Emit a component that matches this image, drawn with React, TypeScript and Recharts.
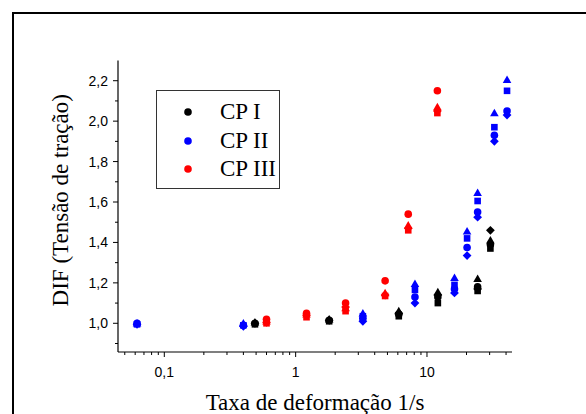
import { ScatterChart, Scatter, XAxis, YAxis, Legend } from "recharts";

// strain rates (1/s) for each specimen group
const cp1Rates = [0.49, 1.8, 6.1, 12.1, 24.3, 30.4];
const cp2Rates = [0.062, 0.4, 3.25, 8.1, 16.2, 20.2, 24.3, 32.6, 40.7];
const cp3Rates = [0.6, 1.21, 2.4, 4.8, 7.2, 12.0];

// DIF values, one list per marker shape
const cp1Circle = [1.0, 1.015, 1.045, 1.13, 1.18, 1.39];
const cp1Triangle = [1.005, 1.02, 1.06, 1.155, 1.22, 1.41];
const cp1Square = [0.995, 1.01, 1.035, 1.1, 1.16, 1.37];
const cp1Diamond = [1.0, 1.015, 1.05, 1.14, 1.17, 1.46];

const cp2Circle = [1.0, 0.99, 1.025, 1.13, 1.17, 1.375, 1.55, 1.93, 2.05];
const cp2Triangle = [1.0, 1.0, 1.05, 1.195, 1.225, 1.455, 1.645, 2.04, 2.205];
const cp2Square = [0.995, 0.99, 1.035, 1.165, 1.19, 1.42, 1.605, 1.97, 2.15];
const cp2Diamond = [0.995, 0.985, 1.01, 1.1, 1.15, 1.335, 1.525, 1.9, 2.03];

const cp3Circle = [1.02, 1.05, 1.1, 1.21, 1.54, 2.15];
const cp3Triangle = [1.01, 1.045, 1.075, 1.15, 1.485, 2.07];
const cp3Square = [1.0, 1.03, 1.06, 1.135, 1.46, 2.04];
const cp3Diamond = [1.005, 1.04, 1.08, 1.14, 1.47, 2.05];

const xMajor = [0.1, 1, 10];
const xMinor = [0.05, 0.06, 0.07, 0.08, 0.09, 0.2, 0.3, 0.4, 0.5, 0.6, 0.7, 0.8, 0.9, 2, 3, 4, 5, 6, 7, 8, 9, 20, 30, 40];
const yMajor = [1.0, 1.2, 1.4, 1.6, 1.8, 2.0, 2.2];
const yMinor = [0.9, 1.1, 1.3, 1.5, 1.7, 1.9, 2.1];

const legendNames = ["CP I", "CP II", "CP III"];
const legendColors = ["#000000", "#0000ff", "#ff0000"];

const SERIF = "'Liberation Serif', 'Times New Roman', serif";
const SANS = "'Liberation Sans', Arial, sans-serif";

const pts = (xs: number[], ys: number[]) => xs.map((x, i) => ({ x, y: ys[i] }));

type Kind = "circle" | "triangle" | "square" | "diamond";

const marker = (kind: Kind, color: string) => (p: any) => {
  const { cx, cy } = p;
  if (cx == null || cy == null) return <g />;
  if (kind === "circle") return <circle cx={cx} cy={cy} r={3.8} fill={color} />;
  if (kind === "square") return <rect x={cx - 3.3} y={cy - 3.3} width={6.6} height={6.6} fill={color} />;
  if (kind === "triangle")
    return <polygon points={`${cx},${cy - 4.3} ${cx + 4.3},${cy + 3.2} ${cx - 4.3},${cy + 3.2}`} fill={color} />;
  return <polygon points={`${cx},${cy - 4.4} ${cx + 4.4},${cy} ${cx},${cy + 4.4} ${cx - 4.4},${cy}`} fill={color} />;
};

const XTick = (props: any) => {
  const { x, y, payload } = props;
  const major = xMajor.includes(payload.value);
  return (
    <g>
      <line x1={x} y1={y} x2={x} y2={y + (major ? 5 : 3)} stroke="#000" strokeWidth={1} />
      {major && (
        <text x={x} y={y + 24.5} textAnchor="middle" fontFamily={SANS} fontSize={14} fill="#000">
          {String(payload.value).replace(".", ",")}
        </text>
      )}
    </g>
  );
};

const YTick = (props: any) => {
  const { x, y, payload } = props;
  const major = yMajor.some((v) => Math.abs(v - payload.value) < 1e-6);
  return (
    <g>
      <line x1={x - (major ? 5 : 3)} y1={y} x2={x} y2={y} stroke="#000" strokeWidth={1} />
      {major && (
        <text x={x - 10} y={y + 5} textAnchor="end" fontFamily={SANS} fontSize={14} fill="#000">
          {payload.value.toFixed(1).replace(".", ",")}
        </text>
      )}
    </g>
  );
};

const YTitle = (props: any) => {
  const vb = props.viewBox || { x: 0, y: 60, width: 118, height: 292 };
  const cx = vb.x + 68;
  const cy = vb.y + vb.height / 2 - 6;
  return (
    <text
      x={cx}
      y={cy}
      transform={`rotate(-90 ${cx} ${cy})`}
      textAnchor="middle"
      fontFamily={SERIF}
      fontSize={23}
      fill="#000"
    >
      DIF (Tensão de tração)
    </text>
  );
};

const LegendBox = () => (
  <div
    style={{
      width: 124,
      height: 99,
      border: "1px solid #333",
      background: "#fff",
      boxSizing: "border-box",
      position: "relative",
    }}
  >
    {legendNames.map((name, i) => (
      <div key={name} style={{ position: "absolute", left: 0, top: 8 + i * 28.5, height: 26, width: 122 }}>
        <svg width={20} height={26} style={{ position: "absolute", left: 21, top: 0 }}>
          <circle cx={10} cy={13} r={3.8} fill={legendColors[i]} />
        </svg>
        <span
          style={{
            position: "absolute",
            left: 63,
            top: 0,
            lineHeight: "26px",
            fontFamily: SERIF,
            fontSize: 23,
            color: "#000",
            whiteSpace: "nowrap",
          }}
        >
          {name}
        </span>
      </div>
    ))}
  </div>
);

const groups: { color: string; rates: number[]; sets: [Kind, number[]][] }[] = [
  { color: "#000000", rates: cp1Rates, sets: [["circle", cp1Circle], ["triangle", cp1Triangle], ["square", cp1Square], ["diamond", cp1Diamond]] },
  { color: "#0000ff", rates: cp2Rates, sets: [["circle", cp2Circle], ["triangle", cp2Triangle], ["square", cp2Square], ["diamond", cp2Diamond]] },
  { color: "#ff0000", rates: cp3Rates, sets: [["circle", cp3Circle], ["triangle", cp3Triangle], ["square", cp3Square], ["diamond", cp3Diamond]] },
];

export default function App() {
  return (
    <div style={{ position: "fixed", left: 0, top: 0, width: 586, height: 414, overflow: "hidden", background: "#fff" }}>
      <div style={{ position: "absolute", left: 0, top: 0 }}>
        <ScatterChart width={586} height={414} margin={{ top: 60.5, right: 74, bottom: 0, left: 0 }}>
          <XAxis
            type="number"
            dataKey="x"
            scale="log"
            domain={[0.0444, 44.4]}
            allowDataOverflow
            ticks={[...xMajor, ...xMinor].sort((a, b) => a - b)}
            interval={0}
            tick={<XTick />}
            tickLine={false}
            tickSize={0}
            tickMargin={0}
            axisLine={{ stroke: "#000", strokeWidth: 1.2 }}
            height={62}
            label={{ value: "Taxa de deformação 1/s", position: "insideBottom", offset: 4, fontFamily: SERIF, fontSize: 23, fill: "#000" }}
          />
          <YAxis
            type="number"
            dataKey="y"
            domain={[0.858, 2.3]}
            allowDataOverflow
            ticks={[...yMajor, ...yMinor].sort((a, b) => a - b)}
            interval={0}
            tick={<YTick />}
            tickLine={false}
            tickSize={0}
            tickMargin={0}
            axisLine={{ stroke: "#000", strokeWidth: 1.2 }}
            width={118}
            label={<YTitle />}
          />
          <Legend
            verticalAlign="middle"
            align="center"
            content={() => <LegendBox />}
            wrapperStyle={{ position: "absolute", left: 156, top: 90, width: 124, height: 99 }}
          />
          {groups.map((g) =>
            g.sets.map(([kind, ys]) => (
              <Scatter
                key={g.color + kind}
                data={pts(g.rates, ys)}
                shape={marker(kind, g.color)}
                fill={g.color}
                legendType="none"
                isAnimationActive={false}
              />
            ))
          )}
        </ScatterChart>
      </div>
      <svg width={586} height={414} style={{ position: "absolute", left: 0, top: 0, pointerEvents: "none" }}>
        <rect x={13} y={13} width={700} height={600} fill="none" stroke="#000" strokeWidth={2} />
      </svg>
    </div>
  );
}
